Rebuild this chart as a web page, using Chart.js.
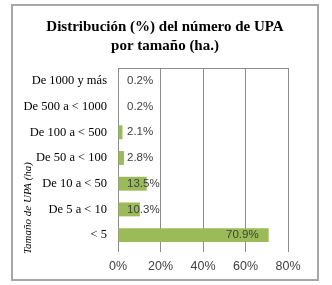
<!DOCTYPE html>
<html><head><meta charset="utf-8">
<script src="https://cdn.jsdelivr.net/npm/chart.js@4/dist/chart.umd.min.js"></script>
<style>html,body{margin:0;padding:0;background:#fff;}#wrap{width:332px;height:285px;position:relative;}</style>
</head><body><div id="wrap"><canvas id="c" width="332" height="285"></canvas></div>
<script>
const categories = ["De 1000 y más","De 500 a < 1000","De 100 a < 500","De 50 a < 100","De 10 a < 50","De 5 a < 10","< 5"];
const values = [0.2, 0.2, 2.1, 2.8, 13.5, 10.3, 70.9];
const tickValues = [0, 20, 40, 60, 80];
const titleLines = ["Distribución (%) del número de UPA", "por tamaño (ha.)"];
const yTitle = "Tamaño de UPA (ha)";

const deco = {
  id: 'deco',
  beforeDraw(chart) {
    const ctx = chart.ctx;
    ctx.save();
    ctx.fillStyle = '#fff';
    ctx.fillRect(0, 0, chart.width, chart.height);
    ctx.strokeStyle = '#a6a6a6';
    ctx.lineWidth = 2;
    ctx.strokeRect(12, 5, 306, 275);
    ctx.restore();
  },
  afterDraw(chart) {
    const ctx = chart.ctx;
    const a = chart.chartArea;
    ctx.save();
    ctx.strokeStyle = '#8c8c8c';
    ctx.lineWidth = 1;
    ctx.beginPath();
    ctx.moveTo(a.left, Math.round(a.top) + 0.5);
    ctx.lineTo(a.right, Math.round(a.top) + 0.5);
    ctx.stroke();
    ctx.fillStyle = '#000';
    ctx.font = 'bold 15px "Liberation Serif"';
    ctx.textAlign = 'center';
    ctx.textBaseline = 'middle';
    ctx.fillText(titleLines[0], 165, 27);
    ctx.fillText(titleLines[1], 165, 46);
    ctx.font = 'italic 11px "Liberation Serif"';
    ctx.translate(28, 208);
    ctx.rotate(-Math.PI / 2);
    ctx.fillText(yTitle, 0, 0);
    ctx.restore();
    const meta = chart.getDatasetMeta(0);
    const xs = chart.scales.x;
    ctx.save();
    ctx.font = '11.5px "Liberation Sans"';
    ctx.fillStyle = '#404040';
    ctx.textBaseline = 'middle';
    meta.data.forEach((bar, i) => {
      const v = values[i];
      const txt = v.toFixed(1) + '%';
      if (v > 30) {
        ctx.textAlign = 'right';
        ctx.fillText(txt, bar.x - 10, bar.y);
      } else {
        ctx.textAlign = 'left';
        ctx.fillText(txt, xs.getPixelForValue(0) + 9, bar.y);
      }
    });
    ctx.restore();
  }
};

new Chart(document.getElementById('c'), {
  type: 'bar',
  data: {
    labels: categories,
    datasets: [{ data: values, backgroundColor: '#9bbb59', borderWidth: 0, categoryPercentage: 0.54, barPercentage: 1 }]
  },
  options: {
    indexAxis: 'y',
    responsive: false,
    animation: false,
    events: [],
    layout: { padding: { top: 68, left: 14, right: 44, bottom: 0 } },
    plugins: { legend: { display: false }, tooltip: { enabled: false }, title: { display: false } },
    scales: {
      x: {
        min: 0, max: 80,
        afterBuildTicks(s) { s.ticks = tickValues.map(v => ({ value: v })); },
        afterFit(s) { s.height = 37; },
        grid: { color: '#8c8c8c', lineWidth: 1, tickLength: 4, drawTicks: true, tickColor: '#8c8c8c' },
        border: { display: false },
        ticks: { callback: v => v + '%', color: '#404040', font: { family: 'Liberation Sans', size: 12.5 }, padding: 7, maxRotation: 0 }
      },
      y: {
        afterFit(s) { s.width = 104; },
        grid: { display: false, drawTicks: false },
        border: { display: true, color: '#8c8c8c', width: 1 },
        ticks: { color: '#000', font: { family: 'Liberation Serif', size: 12.5 }, padding: 11 }
      }
    }
  },
  plugins: [deco]
});
</script></body></html>
